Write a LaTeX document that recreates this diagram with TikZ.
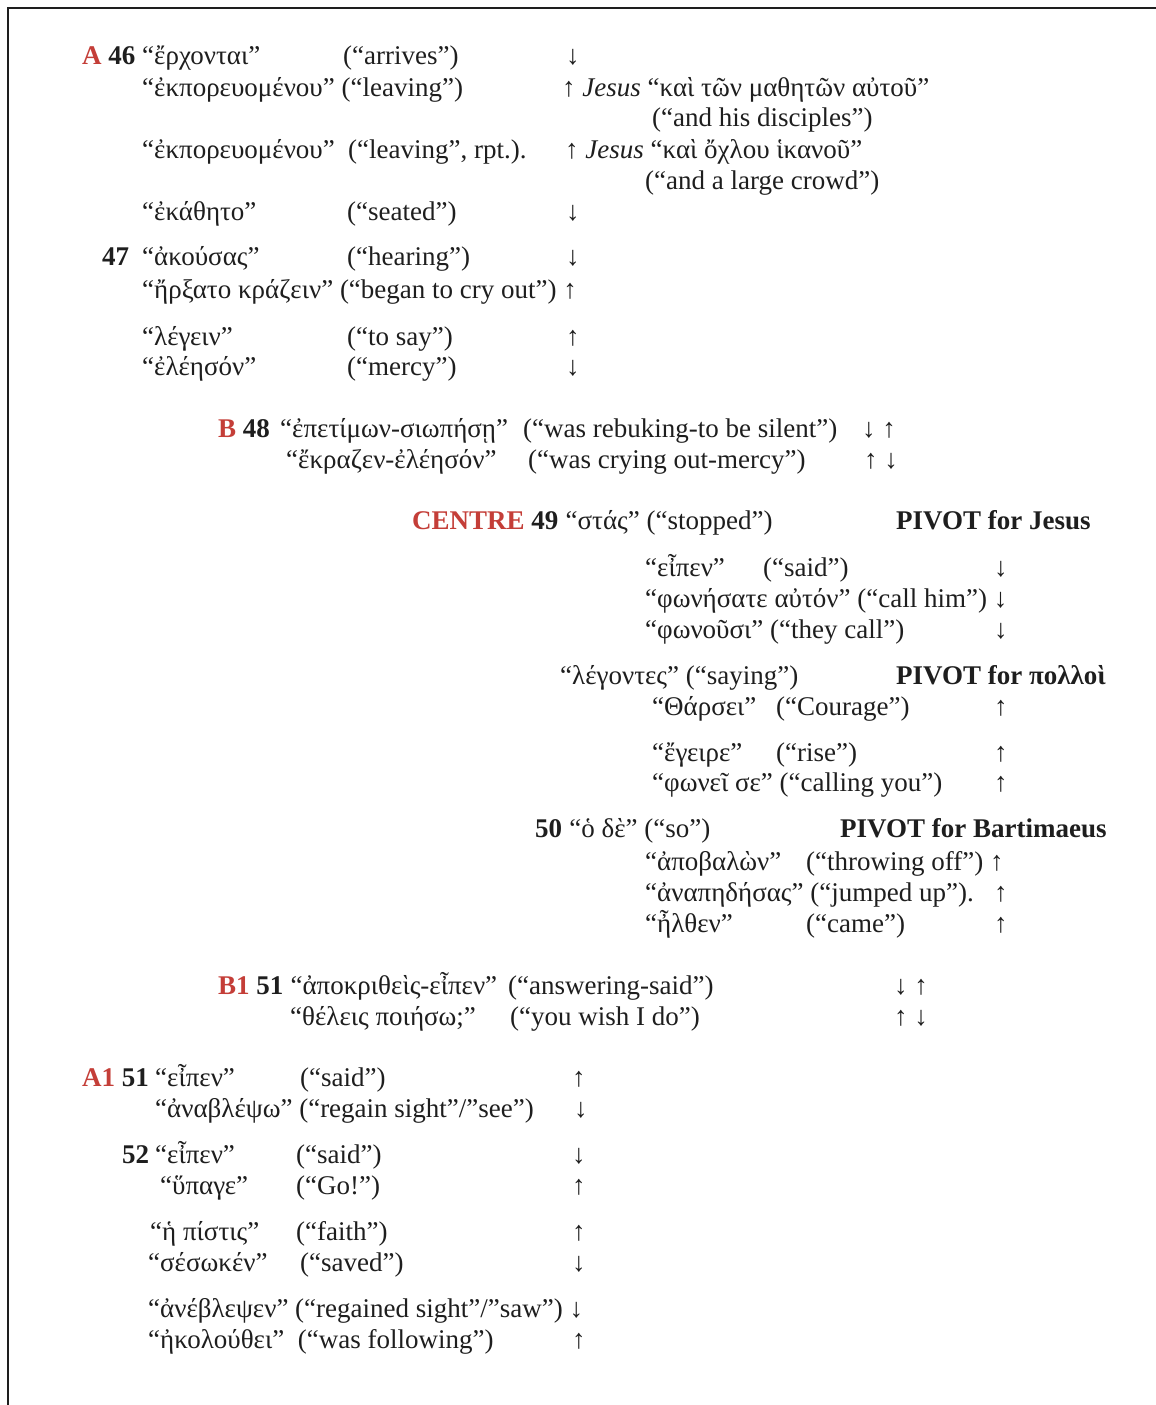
\documentclass[tikz,border=0pt]{standalone}
\usepackage{fontspec}
\setmainfont{Liberation Serif}
\usepackage{tikz}
\definecolor{markred}{RGB}{196,62,56}
\definecolor{inkgray}{RGB}{30,30,30}
\tikzstyle{txt} = [anchor=base west, inner sep=0pt, text=inkgray, font=\fontsize{27}{31}\selectfont]
\tikzstyle{verse} = [txt, font=\fontsize{27}{31}\selectfont\bfseries]
\tikzstyle{dir} = [txt]
\tikzstyle{frame} = [draw, line width=2.2pt, inkgray]

\begin{document}
\begin{tikzpicture}[x=1pt,y=-1pt]
    \useasboundingbox (0,0) rectangle (1156,1405);
    \draw [frame] (8,1405) -- (8,8) -- (1156,8);
    % Place nodes: A
    \node [verse] (A) at (82,65) {\textcolor{markred}{A} 46};
    \node [txt] (gr1) at (142,65) {“ἔρχονται”};
    \node [txt] (en1) at (343,65) {(“arrives”)};
    \node [dir] (dir1) at (566,65) {↓};
    \node [txt] (gr2) at (142,96) {“ἐκπορευομένου” (“leaving”)};
    \node [txt] (je2) at (562,96) {↑ \textit{Jesus} “καὶ τῶν μαθητῶν αὐτοῦ”};
    \node [txt] (en3) at (652,126) {(“and his disciples”)};
    \node [txt] (gr4) at (142,158) {“ἐκπορευομένου”};
    \node [txt] (en4) at (348,158) {(“leaving”, rpt.).};
    \node [txt] (je4) at (565,158) {↑ \textit{Jesus} “καὶ ὄχλου ἱκανοῦ”};
    \node [txt] (en5) at (645,189) {(“and a large crowd”)};
    \node [txt] (gr6) at (142,220) {“ἐκάθητο”};
    \node [txt] (en6) at (347,220) {(“seated”)};
    \node [dir] (dir6) at (566,220) {↓};
    \node [verse] (v47) at (102,265) {47};
    \node [txt] (gr7) at (142,265) {“ἀκούσας”};
    \node [txt] (en7) at (347,265) {(“hearing”)};
    \node [dir] (dir7) at (566,265) {↓};
    \node [txt] (gr8) at (142,298) {“ἤρξατο κράζειν” (“began to cry out”) ↑};
    \node [txt] (gr9) at (142,345) {“λέγειν”};
    \node [txt] (en9) at (347,345) {(“to say”)};
    \node [dir] (dir9) at (566,345) {↑};
    \node [txt] (gr10) at (142,375) {“ἐλέησόν”};
    \node [txt] (en10) at (347,375) {(“mercy”)};
    \node [dir] (dir10) at (566,375) {↓};
    % B
    \node [verse] (B) at (218,437) {\textcolor{markred}{B} 48};
    \node [txt] (gr11) at (280,437) {“ἐπετίμων-σιωπήσῃ”};
    \node [txt] (en11) at (523,437) {(“was rebuking-to be silent”)};
    \node [dir] (dir11) at (862,437) {↓ ↑};
    \node [txt] (gr12) at (286,468) {“ἔκραζεν-ἐλέησόν”};
    \node [txt] (en12) at (528,468) {(“was crying out-mercy”)};
    \node [dir] (dir12) at (864,468) {↑ ↓};
    % CENTRE
    \node [verse] (centre) at (412,529) {\textcolor{markred}{CENTRE} 49};
    \node [txt] (gr13) at (centre.base east) {~“στάς” (“stopped”)};
    \node [verse] (piv1) at (896,529) {PIVOT for Jesus};
    \node [txt] (gr14) at (645,576) {“εἶπεν”};
    \node [txt] (en14) at (763,576) {(“said”)};
    \node [dir] (dir14) at (994,576) {↓};
    \node [txt] (gr15) at (645,607) {“φωνήσατε αὐτόν” (“call him”) ↓};
    \node [txt] (gr16) at (645,638) {“φωνοῦσι” (“they call”)};
    \node [dir] (dir16) at (994,638) {↓};
    \node [txt] (gr17) at (560,684) {“λέγοντες” (“saying”)};
    \node [verse] (piv2) at (896,684) {PIVOT for πολλοὶ};
    \node [txt] (gr18) at (652,715) {“Θάρσει”};
    \node [txt] (en18) at (776,715) {(“Courage”)};
    \node [dir] (dir18) at (994,715) {↑};
    \node [txt] (gr19) at (652,761) {“ἔγειρε”};
    \node [txt] (en19) at (776,761) {(“rise”)};
    \node [dir] (dir19) at (994,761) {↑};
    \node [txt] (gr20) at (652,791) {“φωνεῖ σε” (“calling you”)};
    \node [dir] (dir20) at (994,791) {↑};
    \node [verse] (v50) at (535,837) {50};
    \node [txt] (gr21) at (v50.base east) {~“ὁ δὲ” (“so”)};
    \node [verse] (piv3) at (840,837) {PIVOT for Bartimaeus};
    \node [txt] (gr22) at (645,870) {“ἀποβαλὼν”};
    \node [txt] (en22) at (806,870) {(“throwing off”) ↑};
    \node [txt] (gr23) at (645,901) {“ἀναπηδήσας” (“jumped up”).};
    \node [dir] (dir23) at (994,901) {↑};
    \node [txt] (gr24) at (645,932) {“ἦλθεν”};
    \node [txt] (en24) at (806,932) {(“came”)};
    \node [dir] (dir24) at (994,932) {↑};
    % B1
    \node [verse] (B1) at (218,994) {\textcolor{markred}{B1} 51};
    \node [txt] (gr25) at (B1.base east) {~“ἀποκριθεὶς-εἶπεν”};
    \node [txt] (en25) at (508,994) {(“answering-said”)};
    \node [dir] (dir25) at (894,994) {↓ ↑};
    \node [txt] (gr26) at (290,1025) {“θέλεις ποιήσω;”};
    \node [txt] (en26) at (510,1025) {(“you wish I do”)};
    \node [dir] (dir26) at (894,1025) {↑ ↓};
    % A1
    \node [verse] (A1) at (82,1086) {\textcolor{markred}{A1} 51};
    \node [txt] (gr27) at (155,1086) {“εἶπεν”};
    \node [txt] (en27) at (300,1086) {(“said”)};
    \node [dir] (dir27) at (572,1086) {↑};
    \node [txt] (gr28) at (155,1117) {“ἀναβλέψω” (“regain sight”/”see”)};
    \node [dir] (dir28) at (574,1117) {↓};
    \node [verse] (v52) at (122,1163) {52};
    \node [txt] (gr29) at (155,1163) {“εἶπεν”};
    \node [txt] (en29) at (296,1163) {(“said”)};
    \node [dir] (dir29) at (572,1163) {↓};
    \node [txt] (gr30) at (160,1194) {“ὕπαγε”};
    \node [txt] (en30) at (296,1194) {(“Go!”)};
    \node [dir] (dir30) at (572,1194) {↑};
    \node [txt] (gr31) at (150,1240) {“ἡ πίστις”};
    \node [txt] (en31) at (296,1240) {(“faith”)};
    \node [dir] (dir31) at (572,1240) {↑};
    \node [txt] (gr32) at (148,1271) {“σέσωκέν”};
    \node [txt] (en32) at (300,1271) {(“saved”)};
    \node [dir] (dir32) at (572,1271) {↓};
    \node [txt] (gr33) at (148,1317) {“ἀνέβλεψεν” (“regained sight”/”saw”) ↓};
    \node [txt] (gr34) at (148,1348) {“ἠκολούθει”\ \ (“was following”)};
    \node [dir] (dir34) at (572,1348) {↑};
\end{tikzpicture}
\end{document}
